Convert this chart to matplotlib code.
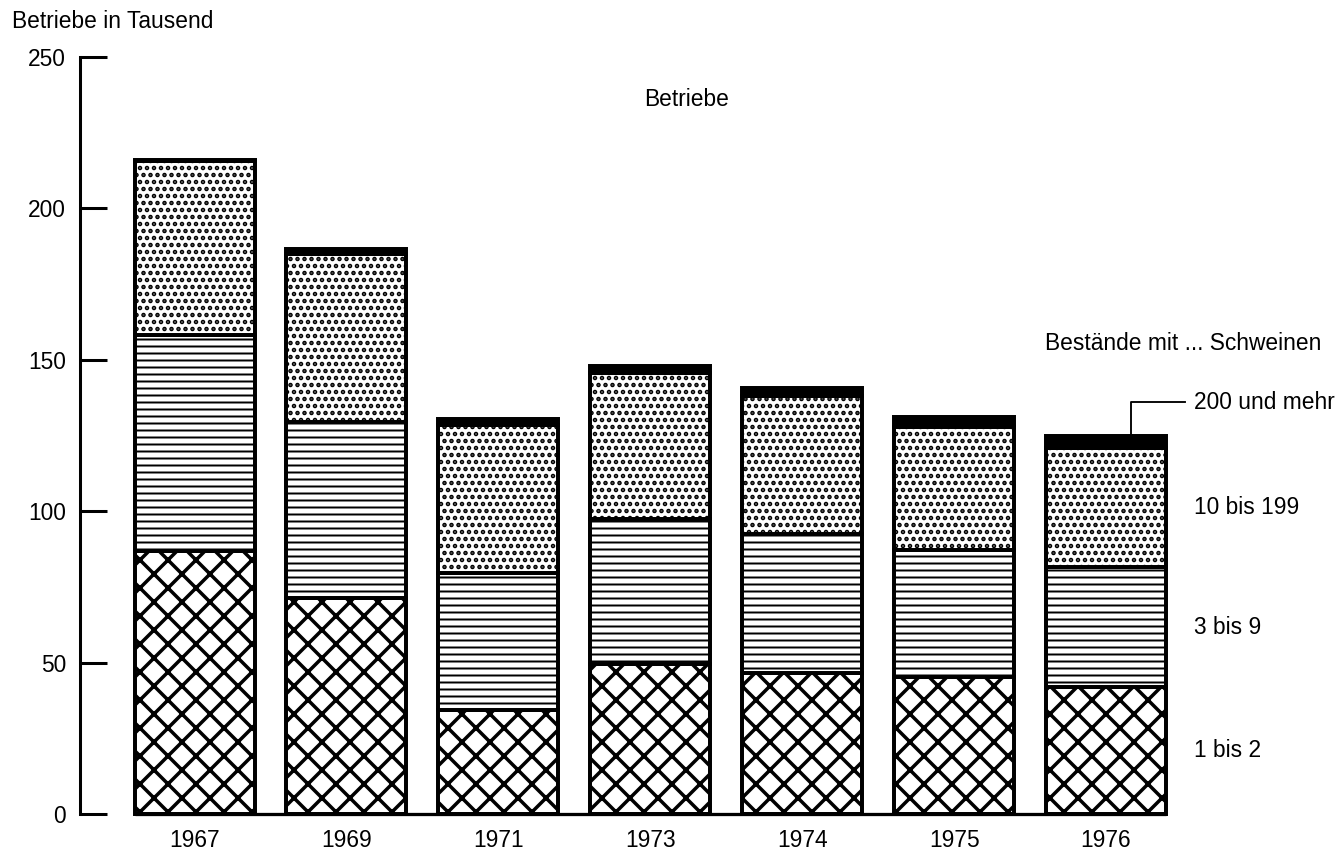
import matplotlib
matplotlib.use('Agg')
import matplotlib.pyplot as plt
import numpy as np

# Betriebe (in Tausend) nach Bestandsgröße
years = ['1967', '1969', '1971', '1973', '1974', '1975', '1976']
s1_2 = [87.0, 71.4, 34.5, 49.7, 46.7, 45.4, 41.8]
s3_9 = [71.2, 58.2, 45.1, 47.7, 45.7, 41.8, 39.8]
s10_199 = [57.5, 55.5, 49.0, 48.3, 45.8, 40.5, 39.4]
s200 = [0.4, 1.4, 2.0, 2.3, 2.6, 3.3, 4.0]
labels = ['1 bis 2', '3 bis 9', '10 bis 199', '200 und mehr']

DPI = 84
FS = 19.5
plt.rcParams['font.family'] = ['Liberation Sans', 'DejaVu Sans']
plt.rcParams['font.size'] = FS

fig = plt.figure(figsize=(1340 / DPI, 853 / DPI), dpi=DPI)
ax = fig.add_axes([80 / 1340, 39 / 853, 1102 / 1340, 757 / 853])

x = np.arange(len(years))
w = 0.79
series = [s1_2, s3_9, s10_199, s200]
hatches = ['x', '--', '..', None]
faces = ['white', 'white', 'white', 'black']
hatch_lws = [3.0, 1.7, 2.6, 1.0]

bottoms = np.zeros(len(years))
mids_last = []
for vals, hatch, fc, hlw in zip(series, hatches, faces, hatch_lws):
    vals = np.array(vals)
    with plt.rc_context({'hatch.linewidth': hlw}):
        bars = ax.bar(x, vals, w, bottom=bottoms, color=fc, edgecolor='black',
                      linewidth=3.4, hatch=hatch, zorder=2)
    for b in bars:
        b.set_clip_on(False)
        if hasattr(b, 'set_hatch_linewidth'):
            b.set_hatch_linewidth(hlw)
    mids_last.append(bottoms[-1] + vals[-1] / 2)
    bottoms = bottoms + vals

# baseline between bars
ax.hlines(0, x[0] - w / 2, x[-1] + w / 2, color='black', lw=2.8, zorder=3, clip_on=False)

ax.set_xlim(-0.754, 6.5)
ax.set_ylim(0, 250)
for s in ['top', 'right', 'bottom']:
    ax.spines[s].set_visible(False)
ax.spines['left'].set_linewidth(2.6)
ax.spines['left'].set_bounds(0, 250)
ax.set_yticks([0, 50, 100, 150, 200, 250])
ax.tick_params(axis='y', direction='in', length=23, width=2.6, pad=12, labelsize=FS)
ax.set_xticks(x)
ax.set_xticklabels(years)
ax.tick_params(axis='x', length=0, pad=13, labelsize=FS)

# labels for the size classes, next to the last bar
lx = 6.58
for lab, ym in zip(labels[:3], mids_last[:3]):
    ax.text(lx, ym, lab, ha='left', va='center', fontsize=FS, clip_on=False)
y_top_label = 136
ax.text(lx, y_top_label, labels[3], ha='left', va='center', fontsize=FS, clip_on=False)
ax.plot([x[-1] + 0.165, x[-1] + 0.165, 6.52], [bottoms[-1], y_top_label, y_top_label],
        color='black', lw=1.6, clip_on=False)

fig.text(1045 / 1340, 1 - 343 / 853, 'Bestände mit ... Schweinen', ha='left', va='center', fontsize=FS)
fig.text(687 / 1340, 1 - 100 / 853, 'Betriebe', ha='center', va='center', fontsize=FS)
fig.text(12 / 1340, 1 - 22 / 853, 'Betriebe in Tausend', ha='left', va='center', fontsize=FS)

fig.savefig('out.png', dpi=DPI)
